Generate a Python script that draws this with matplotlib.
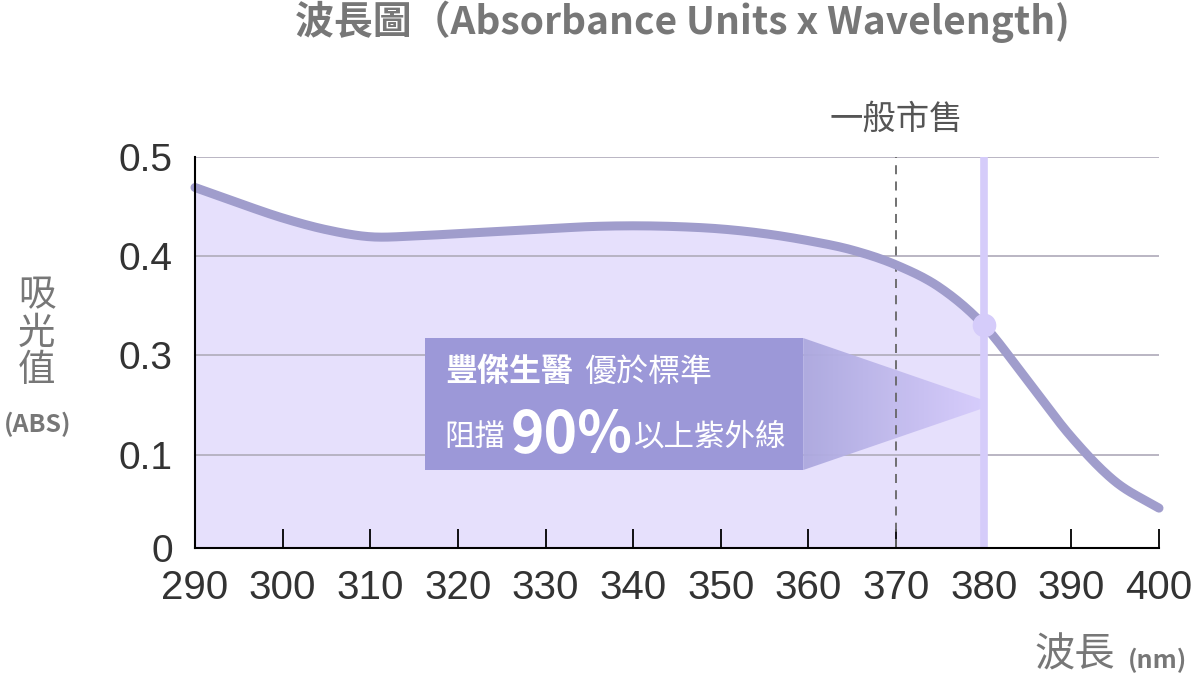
import numpy as np
import matplotlib.pyplot as plt
from matplotlib.patches import Polygon, Rectangle

# ---- data ----
wavelength = [290, 295, 300, 305, 310, 315, 320, 325, 330, 335, 340, 345,
              350, 355, 360, 365, 370, 375, 380, 385, 390, 395, 400]
absorbance = [0.461, 0.441, 0.422, 0.407, 0.398, 0.399, 0.402, 0.405, 0.408,
              0.411, 0.412, 0.411, 0.408, 0.402, 0.393, 0.381, 0.362, 0.333,
              0.285, 0.214, 0.142, 0.085, 0.051]
x_ticks = [290, 300, 310, 320, 330, 340, 350, 360, 370, 380, 390, 400]
y_ticks = [0, 0.119, 0.247, 0.373, 0.5]
y_tick_labels = ["0", "0.1", "0.3", "0.4", "0.5"]
market_nm = 370
ours_nm = 380

CJK = ["Noto Sans CJK TC", "DejaVu Sans"]
NUM = "Liberation Sans"
GREY = "#777777"


def catmull_rom(x, y, n=20):
    # smooth drawing path through the read points
    x = np.asarray(x, float); y = np.asarray(y, float)
    px = np.concatenate([[2 * x[0] - x[1]], x, [2 * x[-1] - x[-2]]])
    py = np.concatenate([[2 * y[0] - y[1]], y, [2 * y[-1] - y[-2]]])
    xs, ys = [], []
    t = np.linspace(0, 1, n, endpoint=False)
    for i in range(1, len(px) - 2):
        for arr, out in ((px, xs), (py, ys)):
            p0, p1, p2, p3 = arr[i - 1:i + 3]
            out.extend(0.5 * ((2 * p1) + (-p0 + p2) * t
                              + (2 * p0 - 5 * p1 + 4 * p2 - p3) * t ** 2
                              + (-p0 + 3 * p1 - 3 * p2 + p3) * t ** 3))
    xs.append(x[-1]); ys.append(y[-1])
    return np.array(xs), np.array(ys)


sx, sy = catmull_rom(wavelength, absorbance)

fig = plt.figure(figsize=(11.92, 6.78), dpi=100)
ax = fig.add_axes([195 / 1192, 1 - 548 / 678, (1159 - 195) / 1192, (548 - 157) / 678])
ax.set_xlim(290, 400)
ax.set_ylim(0, 0.5)

# filled area under curve up to 380 nm
m = sx <= ours_nm + 1e-9
ax.fill_between(sx[m], 0, sy[m], color="#e6e0fc", lw=0, zorder=1)

# grid lines
for v in y_ticks[1:]:
    ax.axhline(v, color="#b4b0be", lw=1.3, zorder=2)

# annotation box + gradient arrow
box_x0, box_x1 = 316.2, 359.4
box_y0, box_y1 = 0.0997, 0.2685
ax.add_patch(Rectangle((box_x0, box_y0), box_x1 - box_x0, box_y1 - box_y0,
                       color="#9c98d8", lw=0, zorder=4))
tri = Polygon([(box_x1, box_y1), (ours_nm, 0.189), (ours_nm, 0.179), (box_x1, box_y0)],
              closed=True, facecolor="none", edgecolor="none", zorder=3)
ax.add_patch(tri)
grad = np.linspace(0, 1, 256)[None, :]
c0 = np.array([172, 168, 222]) / 255
c1 = np.array([214, 204, 252]) / 255
img = c0[None, None, :] * (1 - grad[..., None]) + c1[None, None, :] * grad[..., None]
im = ax.imshow(img, extent=[box_x1, ours_nm, box_y0, box_y1], aspect="auto",
               zorder=3, alpha=0.95, interpolation="bilinear")
im.set_clip_path(tri)

# market reference line (dashed)
ax.axvline(market_nm, color="#666666", lw=1.3, ls=(0, (5, 4)), zorder=5)
ax.text(market_nm, 0.549, "一般市售", ha="center", va="center", fontsize=24,
        color="#555555", family=CJK, clip_on=False)

# curve
ax.plot(sx, sy, color="#a09dcc", lw=6.5, solid_capstyle="round", zorder=6, clip_on=False)

# 380 nm marker
ax.plot([ours_nm, ours_nm], [0, 0.5], color="#d5ccfa", lw=5.5, zorder=7,
        solid_capstyle="butt")
ax.plot([ours_nm], [absorbance[wavelength.index(ours_nm)]], "o", ms=16,
        color="#d5ccfa", zorder=8, clip_on=False)

# box text
ax.text(318.6, 0.2251, "豐傑生醫", fontsize=23, fontweight="bold", color="white",
        family=CJK, va="center", ha="left", zorder=9)
ax.text(334.4, 0.2251, "優於標準", fontsize=23, color="white",
        family=CJK, va="center", ha="left", zorder=9)
ax.text(318.5, 0.1419, "阻擋", fontsize=22, color="white",
        family=CJK, va="center", ha="left", zorder=9)
ax.text(326.0, 0.1450, "90%", fontsize=41, fontweight="bold", color="white",
        family=CJK, va="center", ha="left", zorder=9)
ax.text(340.1, 0.1419, "以上紫外線", fontsize=22, color="white",
        family=CJK, va="center", ha="left", zorder=9)

# axes styling
for s in ("top", "right"):
    ax.spines[s].set_visible(False)
for s in ("left", "bottom"):
    ax.spines[s].set_linewidth(1.5)
    ax.spines[s].set_zorder(10)
ax.set_xticks(x_ticks)
ax.set_xticklabels([str(t) for t in x_ticks], fontsize=29, family=NUM, color="#333333")
ax.tick_params(axis="x", direction="in", length=14, width=1.3, pad=15)
ax.set_yticks(y_ticks)
ax.set_yticklabels(y_tick_labels, fontsize=28, family=NUM, color="#333333")
ax.tick_params(axis="y", length=0, pad=16)
ax.set_facecolor("white")

# titles and axis labels
fig.text(682 / 1192, 1 - 22 / 678, "波長圖（Absorbance Units x Wavelength)",
         ha="center", va="center", fontsize=28, fontweight="bold", color=GREY, family=CJK)
fig.text(37 / 1192, 1 - 333 / 678, "吸\n光\n值", ha="center", va="center",
         fontsize=27, color=GREY, family=CJK, linespacing=0.95)
fig.text(38 / 1192, 1 - 424 / 678, "(ABS)", ha="center", va="center",
         fontsize=18, fontweight="bold", color=GREY, family=CJK)
fig.text(1075 / 1192, 1 - 655 / 678, "波長", ha="center", va="center",
         fontsize=29, color=GREY, family=CJK)
fig.text(1157 / 1192, 1 - 660 / 678, "(nm)", ha="center", va="center",
         fontsize=18, fontweight="bold", color=GREY, family=CJK)

fig.savefig("out.png", dpi=100)
